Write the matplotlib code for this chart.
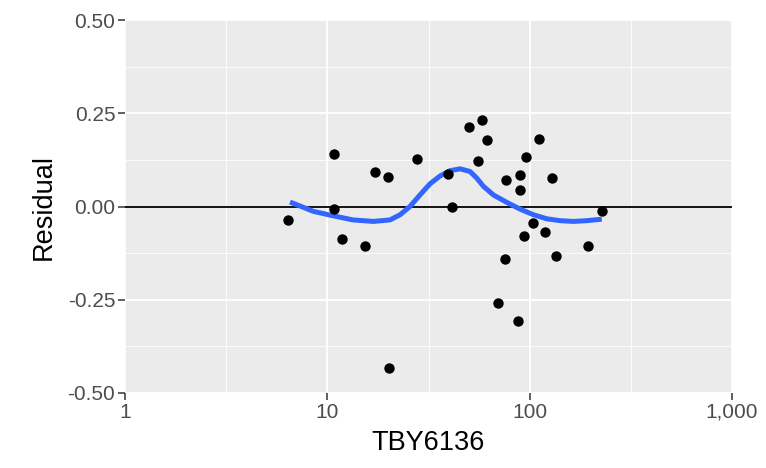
import numpy as np
import matplotlib
matplotlib.use("Agg")
import matplotlib.pyplot as plt
from matplotlib.ticker import FixedLocator, FixedFormatter

plt.rcParams["font.family"] = ["Liberation Sans", "DejaVu Sans"]

# residual points
tby = [6.4, 10.8, 10.8, 11.8, 15.4, 17.2, 19.9, 20.2, 27.7, 39.4, 41.2, 50.0,
       58.4, 61.5, 55.4, 76.7, 90.0, 90.0, 95.6, 111.7, 129.0, 104.3, 94.2,
       118.8, 75.8, 135.1, 193.7, 228.8, 69.5, 87.3]
resid = [-0.035, 0.141, -0.007, -0.087, -0.107, 0.092, 0.078, -0.432, 0.127,
         0.088, 0.0, 0.214, 0.231, 0.178, 0.122, 0.071, 0.085, 0.045, 0.132,
         0.181, 0.076, -0.044, -0.079, -0.069, -0.141, -0.134, -0.105, -0.012,
         -0.259, -0.306]

# loess smooth
smooth_x = [6.54, 8.53, 10.7, 13.4, 16.9, 20.4, 22.9, 25.6, 28.7, 32.2, 36.1,
            40.4, 45.3, 50.7, 54.8, 59.1, 66.2, 77.1, 89.7, 104.3, 121.6,
            141.3, 164.4, 191.5, 227.2]
smooth_y = [0.012, -0.013, -0.025, -0.036, -0.040, -0.036, -0.022, 0.0,
            0.031, 0.061, 0.082, 0.096, 0.101, 0.094, 0.076, 0.054, 0.031,
            0.011, -0.007, -0.022, -0.033, -0.038, -0.040, -0.038, -0.034]

x_major = [1, 10, 100, 1000]
x_labels = ["1", "10", "100", "1,000"]
x_minor = [10 ** 0.5, 10 ** 1.5, 10 ** 2.5]
y_major = [-0.5, -0.25, 0.0, 0.25, 0.5]
y_labels = ["-0.50", "-0.25", "0.00", "0.25", "0.50"]
y_minor = [-0.375, -0.125, 0.125, 0.375]

fig = plt.figure(figsize=(7.66, 4.68), dpi=100)
ax = fig.add_axes([125 / 766, 1 - 393 / 468, (732 - 125) / 766, (393 - 20) / 468])
ax.set_facecolor("#EBEBEB")
ax.set_xscale("log")
ax.set_xlim(1, 1000)
ax.set_ylim(-0.5, 0.5)

for v in x_minor:
    ax.axvline(v, color="white", lw=0.6, zorder=0)
for v in y_minor:
    ax.axhline(v, color="white", lw=0.6, zorder=0)
for v in x_major:
    ax.axvline(v, color="white", lw=1.3, zorder=0)
for v in y_major:
    ax.axhline(v, color="white", lw=1.3, zorder=0)

ax.axhline(0, color="black", lw=1.3, zorder=1)
ax.scatter(tby, resid, s=56, color="black", zorder=3, linewidths=0)
ax.plot(smooth_x, smooth_y, color="#3366FF", lw=3.6, zorder=2,
        solid_capstyle="butt", solid_joinstyle="round")

ax.xaxis.set_major_locator(FixedLocator(x_major))
ax.xaxis.set_major_formatter(FixedFormatter(x_labels))
ax.xaxis.set_minor_locator(FixedLocator([]))
ax.yaxis.set_major_locator(FixedLocator(y_major))
ax.yaxis.set_major_formatter(FixedFormatter(y_labels))

for s in ax.spines.values():
    s.set_visible(False)
ax.tick_params(axis="both", which="major", length=5, width=1.1,
               color="#333333", labelcolor="#4D4D4D", labelsize=15, pad=2)

ax.set_xlabel("TBY6136", fontsize=19.5, color="black", labelpad=6)
ax.set_ylabel("Residual", fontsize=19.5, color="black", labelpad=8)

fig.savefig("out.png", dpi=100)
